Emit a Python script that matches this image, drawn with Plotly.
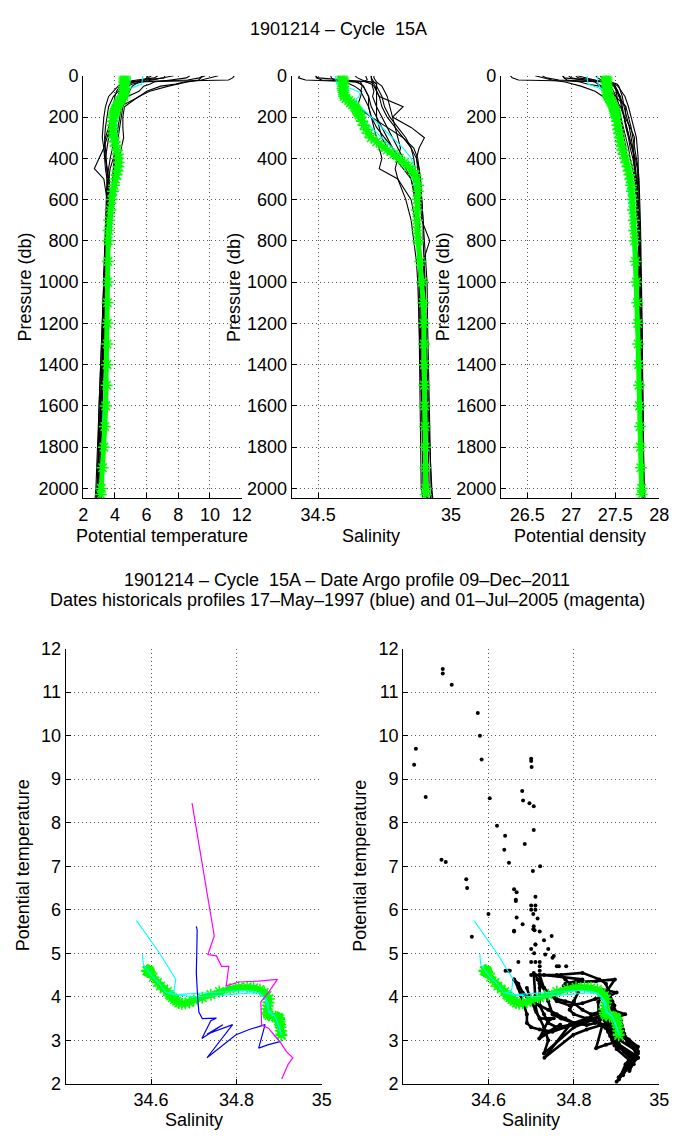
import plotly.graph_objects as go

FIG_W, FIG_H = 682, 1142

# ---------------- data ----------------
# Historical profiles (black), common pressure grid (db)
PRES_HIST = [0, 10, 20, 30, 40, 50, 75, 100, 150, 200, 250, 300, 350, 400, 450, 500,
             600, 700, 800, 900, 1000, 1200, 1400, 1600, 1800, 2000, 2300, 2700]

hist1_temp = [11.53, 11.43, 11.17, 5.2, 4.7, 4.5, 4.3, 4.2, 4.1, 3.9, 3.8, 3.85, 3.95, 4.0, 3.95, 3.9,
              3.8, 3.7, 3.6, 3.5, 3.45, 3.35, 3.25, 3.15, 3.05, 2.95, 2.7, 2.3]
hist1_sal = [34.493, 34.493, 34.514, 34.71, 34.72, 34.72, 34.72, 34.73, 34.74, 34.76, 34.79, 34.82, 34.85, 34.87, 34.88, 34.885,
             34.89, 34.895, 34.90, 34.905, 34.91, 34.912, 34.915, 34.918, 34.92, 34.925, 34.95, 34.93]
hist1_dens = [26.31, 26.33, 26.40, 27.45, 27.52, 27.54, 27.56, 27.58, 27.60, 27.63, 27.66, 27.68, 27.70, 27.71, 27.72, 27.73,
              27.745, 27.76, 27.77, 27.78, 27.79, 27.80, 27.805, 27.81, 27.815, 27.82, 27.86, 27.88]

hist2_temp = [9.70, 9.33, 8.59, 4.6, 4.4, 4.3, 4.1, 4.0, 3.9, 3.8, 3.7, 3.6, 3.5, 3.4, 3.5, 3.6,
              3.6, 3.55, 3.5, 3.45, 3.4, 3.3, 3.2, 3.1, 3.0, 2.9, 2.6, 2.2]
hist2_sal = [34.430, 34.426, 34.453, 34.65, 34.66, 34.67, 34.68, 34.69, 34.70, 34.72, 34.74, 34.76, 34.78, 34.80, 34.83, 34.85,
             34.87, 34.875, 34.88, 34.885, 34.89, 34.893, 34.896, 34.90, 34.903, 34.906, 34.94, 34.915]
hist2_dens = [26.67, 26.72, 26.86, 27.45, 27.48, 27.50, 27.53, 27.55, 27.57, 27.60, 27.63, 27.66, 27.69, 27.72, 27.73, 27.74,
              27.76, 27.765, 27.77, 27.78, 27.79, 27.795, 27.80, 27.81, 27.815, 27.82, 27.86, 27.88]

hist3_temp = [10.52, 10.0, 9.45, 8.56, 7.93, 7.38, 6.2, 5.5, 4.6, 4.5, 4.5, 4.55, 4.4, 4.3, 4.15, 4.05,
              3.9, 3.8, 3.7, 3.6, 3.55, 3.45, 3.35, 3.25, 3.15, 3.1, 2.85, 2.45]
hist3_sal = [34.575, 34.58, 34.584, 34.603, 34.62, 34.637, 34.664, 34.66, 34.647, 34.70, 34.76, 34.82, 34.86, 34.875, 34.88, 34.885,
             34.89, 34.895, 34.895, 34.90, 34.903, 34.906, 34.91, 34.912, 34.915, 34.918, 34.95, 34.94]
hist3_dens = [26.59, 26.68, 26.78, 26.93, 27.03, 27.11, 27.27, 27.36, 27.43, 27.48, 27.53, 27.57, 27.61, 27.64, 27.66, 27.68,
              27.70, 27.72, 27.74, 27.755, 27.77, 27.78, 27.79, 27.80, 27.81, 27.815, 27.86, 27.87]

hist4_temp = [9.47, 9.42, 9.28, 8.38, 7.83, 6.89, 6.0, 5.55, 4.3, 4.1, 3.95, 3.9, 3.85, 3.7, 3.6, 3.65,
              3.7, 3.65, 3.6, 3.55, 3.5, 3.4, 3.3, 3.2, 3.1, 3.0, 2.75, 2.35]
hist4_sal = [34.700, 34.700, 34.701, 34.706, 34.706, 34.704, 34.71, 34.705, 34.72, 34.74, 34.76, 34.78, 34.80, 34.82, 34.84, 34.86,
             34.875, 34.88, 34.885, 34.89, 34.893, 34.896, 34.90, 34.902, 34.905, 34.908, 34.948, 34.92]
hist4_dens = [26.91, 26.92, 26.95, 27.10, 27.18, 27.32, 27.45, 27.50, 27.62, 27.65, 27.68, 27.70, 27.72, 27.74, 27.76, 27.77,
              27.78, 27.785, 27.79, 27.795, 27.80, 27.805, 27.81, 27.815, 27.82, 27.825, 27.87, 27.89]

hist5_temp = [8.73, 8.51, 7.51, 6.47, 6.23, 5.82, 5.52, 4.8, 4.2, 3.9, 3.7, 3.5, 3.3, 3.0, 2.7, 3.3,
              3.5, 3.55, 3.5, 3.45, 3.4, 3.3, 3.2, 3.1, 3.0, 2.92, 2.65, 2.2]
hist5_sal = [34.679, 34.681, 34.685, 34.66, 34.664, 34.666, 34.66, 34.67, 34.69, 34.70, 34.71, 34.72, 34.73, 34.74, 34.73, 34.80,
             34.85, 34.865, 34.875, 34.88, 34.885, 34.89, 34.893, 34.896, 34.90, 34.903, 34.945, 34.91]
hist5_dens = [26.97, 27.00, 27.15, 27.27, 27.30, 27.35, 27.38, 27.48, 27.56, 27.60, 27.63, 27.66, 27.69, 27.73, 27.75, 27.75,
              27.76, 27.77, 27.78, 27.785, 27.79, 27.80, 27.805, 27.81, 27.815, 27.82, 27.86, 27.88]

hist6_temp = [7.15, 7.1, 5.9, 4.8, 4.5, 4.4, 4.3, 4.2, 4.0, 3.8, 3.6, 3.4, 3.3, 3.35, 3.4, 3.5,
              3.55, 3.5, 3.45, 3.4, 3.35, 3.25, 3.15, 3.05, 2.95, 2.88, 2.6, 2.15]
hist6_sal = [34.49, 34.50, 34.60, 34.70, 34.71, 34.715, 34.72, 34.72, 34.72, 34.72, 34.73, 34.74, 34.76, 34.79, 34.82, 34.85,
             34.865, 34.87, 34.875, 34.88, 34.882, 34.885, 34.888, 34.89, 34.893, 34.895, 34.95, 34.905]
hist6_dens = [26.90, 26.92, 27.15, 27.42, 27.47, 27.49, 27.51, 27.52, 27.54, 27.56, 27.59, 27.62, 27.65, 27.67, 27.70, 27.72,
              27.74, 27.75, 27.76, 27.77, 27.78, 27.79, 27.80, 27.805, 27.81, 27.815, 27.87, 27.88]

hist7_temp = [7.70, 7.08, 6.40, 5.67, 5.1, 4.8, 4.6, 4.5, 4.4, 4.3, 4.2, 4.1, 4.0, 3.95, 3.9, 3.85,
              3.8, 3.7, 3.6, 3.5, 3.45, 3.35, 3.25, 3.15, 3.08, 3.02, 2.75, 2.3]
hist7_sal = [34.639, 34.648, 34.666, 34.68, 34.70, 34.71, 34.72, 34.73, 34.82, 34.78, 34.85, 34.90, 34.88, 34.87, 34.875, 34.88,
             34.885, 34.89, 34.92, 34.895, 34.90, 34.905, 34.91, 34.915, 34.92, 34.928, 34.95, 34.93]
hist7_dens = [27.07, 27.16, 27.27, 27.37, 27.45, 27.49, 27.52, 27.54, 27.62, 27.61, 27.67, 27.72, 27.71, 27.71, 27.72, 27.73,
              27.74, 27.75, 27.78, 27.78, 27.79, 27.80, 27.81, 27.815, 27.82, 27.83, 27.87, 27.88]

hist8_temp = [6.10, 6.0, 5.9, 5.2, 4.8, 4.5, 4.2, 3.9, 3.6, 3.5, 3.4, 3.35, 3.4, 3.45, 3.5, 3.5,
              3.45, 3.4, 3.35, 3.3, 3.28, 3.25, 3.22, 3.2, 3.18, 3.2, 3.0, 2.6]
hist8_sal = [34.70, 34.70, 34.705, 34.71, 34.72, 34.72, 34.73, 34.74, 34.75, 34.77, 34.80, 34.83, 34.85, 34.86, 34.865, 34.87,
             34.872, 34.875, 34.877, 34.878, 34.88, 34.88, 34.882, 34.884, 34.886, 34.888, 34.93, 34.95]
hist8_dens = [27.33, 27.35, 27.37, 27.45, 27.50, 27.53, 27.57, 27.61, 27.65, 27.68, 27.71, 27.74, 27.75, 27.76, 27.76, 27.765,
              27.77, 27.775, 27.78, 27.785, 27.79, 27.79, 27.795, 27.80, 27.80, 27.80, 27.84, 27.88]

hist9_temp = [6.70, 6.5, 5.38, 4.6, 4.4, 4.2, 3.9, 3.6, 3.4, 3.3, 3.25, 3.2, 3.3, 3.4, 3.5, 3.55,
              3.5, 3.45, 3.4, 3.35, 3.3, 3.2, 3.1, 3.0, 2.9, 2.8, 2.5, 2.05]
hist9_sal = [34.548, 34.55, 34.561, 34.64, 34.66, 34.67, 34.68, 34.69, 34.69, 34.70, 34.72, 34.75, 34.78, 34.81, 34.84, 34.86,
             34.87, 34.875, 34.88, 34.885, 34.888, 34.89, 34.892, 34.895, 34.898, 34.90, 34.935, 34.90]
hist9_dens = [27.05, 27.08, 27.25, 27.40, 27.45, 27.48, 27.52, 27.56, 27.58, 27.60, 27.62, 27.65, 27.67, 27.70, 27.72, 27.74,
              27.755, 27.765, 27.775, 27.78, 27.79, 27.795, 27.80, 27.805, 27.81, 27.815, 27.86, 27.88]

hist10_temp = [6.3, 6.1, 5.8, 5.5, 5.3, 5.1, 4.9, 4.7, 4.5, 4.4, 4.3, 4.2, 4.1, 3.9, 3.7, 3.6,
               3.5, 3.45, 3.4, 3.35, 3.3, 3.2, 3.1, 3.0, 2.95, 2.9, 2.55, 2.1]
hist10_sal = [34.71, 34.71, 34.715, 34.72, 34.73, 34.74, 34.75, 34.76, 34.77, 34.78, 34.79, 34.80, 34.81, 34.80, 34.79, 34.80,
              34.83, 34.85, 34.86, 34.87, 34.875, 34.88, 34.885, 34.89, 34.895, 34.90, 34.94, 34.905]
hist10_dens = [27.28, 27.30, 27.34, 27.39, 27.42, 27.45, 27.48, 27.51, 27.54, 27.56, 27.58, 27.60, 27.62, 27.63, 27.64, 27.66,
               27.69, 27.71, 27.72, 27.735, 27.745, 27.76, 27.775, 27.79, 27.80, 27.81, 27.86, 27.88]

# Historical profile of 17-May-1997 (blue) and 01-Jul-2005 (magenta), theta-S
blue_sal = [34.706, 34.708, 34.707, 34.706, 34.709, 34.712, 34.72, 34.734, 34.753, 34.740, 34.719, 34.768,
            34.731, 34.791, 34.731, 34.799, 34.83, 34.867, 34.852, 34.875, 34.902]
blue_temp = [5.62, 5.53, 5.0, 4.55, 4.0, 3.65, 3.5, 3.5, 3.51, 3.45, 3.04, 3.36,
             3.14, 3.36, 2.60, 3.13, 3.25, 3.36, 2.82, 2.9, 2.97]
mag_sal = [34.696, 34.721, 34.748, 34.733, 34.753, 34.765, 34.782, 34.776, 34.806, 34.852, 34.896,
           34.875, 34.857, 34.859, 34.875, 34.89, 34.902, 34.917, 34.932, 34.921, 34.906]
mag_temp = [8.45, 7.0, 5.40, 4.97, 4.94, 4.70, 4.70, 4.25, 4.34, 4.36, 4.40,
            4.10, 3.88, 3.35, 3.28, 3.1, 2.97, 2.74, 2.60, 2.45, 2.11]

# Previous profiles of the float (cyan)
cyan1_pres = [0, 40, 60, 80, 100, 120, 150, 200, 250, 300, 350, 400, 450, 500, 600, 800, 1000, 1500, 2000]
cyan1_temp = [5.75, 5.7, 5.0, 4.4, 4.15, 4.08, 4.05, 4.08, 4.1, 4.12, 4.15, 4.1, 4.0, 3.95, 3.85, 3.65, 3.55, 3.3, 3.12]
cyan1_sal = [34.565, 34.57, 34.62, 34.658, 34.654, 34.64, 34.66, 34.70, 34.74, 34.78, 34.82, 34.85, 34.865, 34.87,
             34.875, 34.875, 34.89, 34.90, 34.905]
cyan1_dens = [27.18, 27.19, 27.32, 27.42, 27.45, 27.45, 27.47, 27.50, 27.53, 27.56, 27.59, 27.62, 27.64, 27.65,
              27.67, 27.70, 27.72, 27.76, 27.79]
cyan2_pres = [0, 30, 60, 80, 100, 150, 200, 250, 300, 350, 400, 450, 500, 600, 800, 1000, 1500, 2000]
cyan2_temp = [4.98, 4.95, 4.74, 4.5, 4.3, 4.1, 4.05, 4.0, 4.02, 4.05, 4.08, 4.1, 4.05, 3.9, 3.68, 3.55, 3.32, 3.12]
cyan2_sal = [34.58, 34.58, 34.582, 34.60, 34.62, 34.635, 34.66, 34.70, 34.74, 34.78, 34.82, 34.85, 34.86, 34.87,
             34.875, 34.89, 34.90, 34.905]
cyan2_dens = [27.30, 27.30, 27.33, 27.37, 27.41, 27.45, 27.47, 27.51, 27.54, 27.57, 27.60, 27.62, 27.64, 27.66,
              27.70, 27.72, 27.76, 27.79]

# Argo profile, cycle 15A (green stars)
argo_pres = [0, 10, 20, 30, 40, 50, 60, 70, 80, 90, 100,
             110, 120, 130, 140, 150, 160, 170, 180, 190, 200,
             220, 240, 260, 280, 300, 320, 340, 360, 380, 400, 420, 440, 460, 480, 500,
             530, 560, 600, 650, 700, 750,
             800, 900, 1000, 1100, 1200, 1300, 1400, 1500, 1600, 1700, 1800, 1900, 2000, 2030]
argo_temp = [4.60, 4.61, 4.60, 4.59, 4.60, 4.58, 4.59, 4.60, 4.58, 4.57, 4.55,
             4.45, 4.33, 4.25, 4.18, 4.12, 4.05, 4.02, 3.98, 3.94, 3.90,
             3.86, 3.84, 3.85, 3.87, 3.92, 3.98, 4.05, 4.12, 4.18, 4.22, 4.23, 4.21, 4.17, 4.10, 4.03,
             3.95, 3.87, 3.80, 3.72, 3.64, 3.60,
             3.57, 3.55, 3.54, 3.53, 3.52, 3.51, 3.50, 3.48, 3.42, 3.36, 3.30, 3.22, 3.14, 3.11]
argo_sal = [34.590, 34.592, 34.594, 34.593, 34.595, 34.594, 34.592, 34.594, 34.596, 34.597, 34.598,
            34.605, 34.615, 34.622, 34.630, 34.638, 34.643, 34.646, 34.650, 34.655, 34.660,
            34.665, 34.672, 34.680, 34.690, 34.700, 34.720, 34.740, 34.760, 34.785, 34.805, 34.825, 34.840,
            34.855, 34.865, 34.872,
            34.876, 34.875, 34.873, 34.871, 34.872, 34.873,
            34.876, 34.884, 34.892, 34.896, 34.898, 34.899, 34.900, 34.900, 34.901, 34.902, 34.903, 34.904,
            34.905, 34.905]
argo_dens = [27.40, 27.40, 27.40, 27.40, 27.40, 27.41, 27.41, 27.41, 27.41, 27.41, 27.42,
             27.43, 27.45, 27.46, 27.47, 27.48, 27.49, 27.495, 27.50, 27.505, 27.51,
             27.52, 27.525, 27.53, 27.54, 27.55, 27.56, 27.57, 27.58, 27.595, 27.61, 27.625, 27.64, 27.65,
             27.66, 27.67,
             27.68, 27.69, 27.695, 27.70, 27.71, 27.715,
             27.72, 27.73, 27.74, 27.75, 27.755, 27.76, 27.765, 27.77, 27.775, 27.78, 27.785, 27.79, 27.80, 27.80]

# tick labels
temp_ticks_top = [2, 4, 6, 8, 10, 12]
sal_ticks_top = [34.5, 35]
dens_ticks_top = [26.5, 27, 27.5, 28]
pres_ticks = [0, 200, 400, 600, 800, 1000, 1200, 1400, 1600, 1800, 2000]
sal_ticks_bot = [34.6, 34.8, 35]
temp_ticks_bot = [2, 3, 4, 5, 6, 7, 8, 9, 10, 11, 12]

title_top = "1901214 \u2013 Cycle\u00a0 15A"
title_bot_1 = "1901214 \u2013 Cycle\u00a0 15A \u2013 Date Argo profile 09\u2013Dec\u20132011"
title_bot_2 = "Dates historicals profiles 17\u2013May\u20131997 (blue) and 01\u2013Jul\u20132005 (magenta)"

# ---------------- figure ----------------
hist_temps = [hist1_temp, hist2_temp, hist3_temp, hist4_temp, hist5_temp,
              hist6_temp, hist7_temp, hist8_temp, hist9_temp, hist10_temp]
hist_sals = [hist1_sal, hist2_sal, hist3_sal, hist4_sal, hist5_sal,
             hist6_sal, hist7_sal, hist8_sal, hist9_sal, hist10_sal]
hist_denss = [hist1_dens, hist2_dens, hist3_dens, hist4_dens, hist5_dens,
              hist6_dens, hist7_dens, hist8_dens, hist9_dens, hist10_dens]
cyan_sets = [(cyan1_pres, cyan1_temp, cyan1_sal, cyan1_dens), (cyan2_pres, cyan2_temp, cyan2_sal, cyan2_dens)]

GREEN = "#00ff00"
CYAN = "#00ffff"
FONT = "Liberation Sans, Arial, Helvetica, sans-serif"

fig = go.Figure()

star_marker = dict(symbol="asterisk-open", size=10, color=GREEN, line=dict(width=1.5, color=GREEN))

# top panels
for ax_i, var in ((1, "temp"), (2, "sal"), (3, "dens")):
    xa = "x" if ax_i == 1 else f"x{ax_i}"
    ya = "y" if ax_i == 1 else f"y{ax_i}"
    series = {"temp": hist_temps, "sal": hist_sals, "dens": hist_denss}[var]
    for prof in series:
        fig.add_trace(go.Scatter(x=prof, y=PRES_HIST, mode="lines", xaxis=xa, yaxis=ya,
                                 line=dict(color="black", width=1.1), showlegend=False))
    for cp, ct, cs, cd in cyan_sets:
        cx = {"temp": ct, "sal": cs, "dens": cd}[var]
        fig.add_trace(go.Scatter(x=cx, y=cp, mode="lines", xaxis=xa, yaxis=ya,
                                 line=dict(color=CYAN, width=1.1), showlegend=False))
    gx = {"temp": argo_temp, "sal": argo_sal, "dens": argo_dens}[var]
    fig.add_trace(go.Scatter(x=gx, y=argo_pres, mode="lines+markers", xaxis=xa, yaxis=ya,
                             line=dict(color=GREEN, width=5), marker=star_marker, showlegend=False))

# bottom left: theta-S with 1997 / 2005 profiles
fig.add_trace(go.Scatter(x=argo_sal, y=argo_temp, mode="lines+markers", xaxis="x4", yaxis="y4",
                         line=dict(color=GREEN, width=6), marker=star_marker, showlegend=False))
for cp, ct, cs, cd in cyan_sets:
    fig.add_trace(go.Scatter(x=cs, y=ct, mode="lines", xaxis="x4", yaxis="y4",
                             line=dict(color=CYAN, width=1.1), showlegend=False))
fig.add_trace(go.Scatter(x=blue_sal, y=blue_temp, mode="lines", xaxis="x4", yaxis="y4",
                         line=dict(color="#0000ff", width=1.2), showlegend=False))
fig.add_trace(go.Scatter(x=mag_sal, y=mag_temp, mode="lines", xaxis="x4", yaxis="y4",
                         line=dict(color="#ff00ff", width=1.2), showlegend=False))


# bottom right: theta-S with all historical data (black dots)
def dense_part(sal, temp, limit=4.6):
    xs, ys = [], []
    for s, t in zip(sal, temp):
        if t < limit:
            xs.append(s)
            ys.append(t)
        else:
            xs.append(None)
            ys.append(None)
    return xs, ys


all_black = list(zip(hist_sals, hist_temps)) + [(blue_sal, blue_temp), (mag_sal, mag_temp)]
for s, t in all_black:
    xs, ys = dense_part(s, t)
    fig.add_trace(go.Scatter(x=xs, y=ys, mode="lines", xaxis="x5", yaxis="y5", connectgaps=False,
                             line=dict(color="black", width=2.6), showlegend=False))
    fig.add_trace(go.Scatter(x=s, y=t, mode="markers", xaxis="x5", yaxis="y5",
                             marker=dict(color="black", size=4), showlegend=False))
fig.add_trace(go.Scatter(x=argo_sal, y=argo_temp, mode="lines+markers", xaxis="x5", yaxis="y5",
                         line=dict(color=GREEN, width=6), marker=star_marker, showlegend=False))
for cp, ct, cs, cd in cyan_sets:
    fig.add_trace(go.Scatter(x=cs, y=ct, mode="lines", xaxis="x5", yaxis="y5",
                             line=dict(color=CYAN, width=1.1), showlegend=False))


def fx(px):
    return px / FIG_W


def fy(py):
    return 1 - py / FIG_H


base_axis = dict(showline=True, linecolor="black", linewidth=1, mirror=False,
                 ticks="inside", ticklen=5, tickcolor="black", tickwidth=1,
                 showgrid=True, gridcolor="#555555", griddash="1px,3px", gridwidth=1,
                 zeroline=False, tickfont=dict(family=FONT, size=18, color="black"))

top_dom = [fy(497), fy(67)]
bot_dom = [fy(1093), fy(650)]

layout_axes = {
    "xaxis": dict(base_axis, domain=[fx(80), fx(242)], range=[2, 12], tickvals=temp_ticks_top, anchor="y"),
    "yaxis": dict(base_axis, domain=top_dom, range=[2048, 0], tickvals=pres_ticks, anchor="x"),
    "xaxis2": dict(base_axis, domain=[fx(293), fx(456)], range=[34.4, 35], tickvals=sal_ticks_top,
                   ticktext=[str(v) for v in sal_ticks_top], anchor="y2"),
    "yaxis2": dict(base_axis, domain=top_dom, range=[2048, 0], tickvals=pres_ticks, anchor="x2"),
    "xaxis3": dict(base_axis, domain=[fx(507), fx(669)], range=[26.2, 28], tickvals=dens_ticks_top,
                   ticktext=["26.5", "27", "27.5", "28"], anchor="y3"),
    "yaxis3": dict(base_axis, domain=top_dom, range=[2048, 0], tickvals=pres_ticks, anchor="x3"),
    "xaxis4": dict(base_axis, domain=[fx(62), fx(324)], range=[34.4, 35], tickvals=sal_ticks_bot,
                   ticktext=["34.6", "34.8", "35"], anchor="y4"),
    "yaxis4": dict(base_axis, domain=bot_dom, range=[2, 12], tickvals=temp_ticks_bot, anchor="x4"),
    "xaxis5": dict(base_axis, domain=[fx(407), fx(669)], range=[34.4, 35], tickvals=sal_ticks_bot,
                   ticktext=["34.6", "34.8", "35"], anchor="y5"),
    "yaxis5": dict(base_axis, domain=bot_dom, range=[2, 12], tickvals=temp_ticks_bot, anchor="x5"),
}


def text_ann(txt, xpx, ypx, angle=0):
    return dict(text=txt, x=fx(xpx), y=fy(ypx), xref="paper", yref="paper",
                xanchor="center", yanchor="middle", showarrow=False, textangle=angle,
                font=dict(family=FONT, size=18, color="black"))


annotations = [
    text_ann(title_top, 341, 19),
    text_ann(title_bot_1, 350, 580),
    text_ann(title_bot_2, 350, 601),
    text_ann("Potential temperature", 161, 535),
    text_ann("Salinity", 374, 535),
    text_ann("Potential density", 588, 535),
    text_ann("Pressure (db)", 21, 282, -90),
    text_ann("Pressure (db)", 234, 282, -90),
    text_ann("Pressure (db)", 448, 282, -90),
    text_ann("Salinity", 193, 1130),
    text_ann("Salinity", 538, 1130),
    text_ann("Potential temperature", 18, 871, -90),
    text_ann("Potential temperature", 363, 871, -90),
]

fig.update_layout(width=FIG_W, height=FIG_H, margin=dict(l=0, r=0, t=0, b=0),
                  paper_bgcolor="white", plot_bgcolor="white", showlegend=False,
                  annotations=annotations, **layout_axes)

fig.write_html("out.html", config={"displayModeBar": False},
               post_script="document.body.style.margin='0px';")
